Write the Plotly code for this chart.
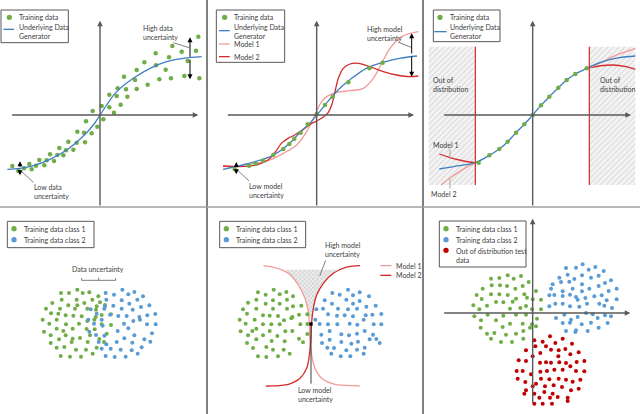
import plotly.graph_objects as go

# ---------------- data (panel-local units) ----------------
# Panel 1: data uncertainty (regression)
p1_gen_x = [22, 60, 100, 150, 200, 250, 280, 300, 320, 350, 400, 450, 500, 550, 605]
p1_gen_y = [508, 505, 497, 478, 450, 408, 375, 345, 315, 275, 235, 205, 185, 175, 170]
p1_train = [(37, 498), (55, 513), (72, 505), (88, 492), (95, 508), (108, 497), (118, 480), (133, 496),
            (140, 481), (150, 463), (162, 483), (172, 465), (178, 444), (190, 466), (198, 451), (205, 425),
            (220, 449), (230, 428), (232, 395), (252, 398), (255, 427), (258, 364), (275, 400), (278, 333),
            (292, 380), (305, 318), (310, 358), (328, 284), (328, 322), (342, 338), (350, 288), (353, 265),
            (362, 314), (372, 230), (378, 268), (382, 290), (405, 240), (410, 210), (410, 267), (433, 187),
            (443, 254), (467, 160), (468, 196), (478, 238), (497, 209), (507, 172), (513, 235), (517, 138),
            (545, 155), (553, 228), (563, 183), (588, 152), (595, 110), (598, 235)]

# Panel 2: model uncertainty (regression)
p2_gen_x = [30, 100, 180, 230, 260, 290, 312, 340, 375, 410, 460, 510, 560, 612]
p2_gen_y = [508, 492, 466, 430, 398, 370, 345, 310, 270, 240, 205, 187, 175, 168]
p2_train_x = [65, 108, 128, 150, 181, 211, 229, 244, 263, 284, 311, 336, 359, 406, 469, 509]
p2_train_y = [508, 497, 491, 482, 465, 447, 432, 416, 398, 373, 343, 315, 290, 247, 205, 188]
p2_m1_x = [30, 80, 130, 171, 211, 251, 281, 296, 311, 326, 346, 371, 411, 451, 481, 506, 531, 566, 616]
p2_m1_y = [500, 497, 490, 480, 460, 435, 395, 365, 333, 305, 287, 277, 272, 265, 235, 190, 145, 110, 95]
p2_m2_x = [30, 80, 130, 165, 190, 205, 225, 245, 265, 285, 300, 311, 330, 346, 356, 366, 376, 391, 411,
           436, 471, 511, 551, 591, 616]
p2_m2_y = [498, 500, 495, 480, 452, 430, 415, 405, 392, 378, 368, 363, 352, 337, 315, 275, 235, 205, 192,
           190, 200, 215, 225, 230, 228]

# Panel 3: out of distribution (regression)
p3_gen_x = [40, 100, 148, 190, 220, 245, 270, 295, 320, 345, 370, 397, 422, 448, 482, 530, 580, 628]
p3_gen_y = [507, 497, 488, 466, 447, 425, 398, 373, 345, 316, 290, 263, 240, 222, 205, 185, 173, 168]
p3_train_x = [158, 190, 220, 245, 270, 295, 320, 345, 370, 397, 422, 448, 482]
p3_train_y = [488, 466, 447, 425, 398, 373, 345, 316, 290, 263, 240, 222, 205]
p3_m1_left_x = [40, 70, 100, 130, 148]
p3_m1_left_y = [462, 472, 480, 486, 488]
p3_m2_left_x = [45, 75, 105, 130, 148]
p3_m2_left_y = [555, 532, 512, 497, 488]
p3_m1_right_x = [490, 520, 560, 600, 628]
p3_m1_right_y = [203, 198, 195, 200, 208]
p3_m2_right_x = [490, 520, 560, 600, 628]
p3_m2_right_y = [203, 190, 170, 155, 145]
p3_ood_left = [8, 148]
p3_ood_right = [490, 628]
p3_ood_y = [140, 555]

# Panel 4: data uncertainty (classification)
p4_class1 = [(232, 248), (183, 258), (207, 258), (248, 258), (268, 256), (295, 268), (185, 278), (230, 278),
             (277, 278), (157, 288), (253, 288), (300, 286), (205, 295), (232, 295), (290, 298), (315, 294),
             (138, 305), (180, 305), (225, 305), (262, 305), (288, 308), (153, 319), (175, 320), (197, 325),
             (220, 326), (245, 328), (287, 330), (305, 324), (333, 322), (128, 338), (170, 338), (262, 342),
             (283, 338), (148, 350), (198, 352), (237, 350), (305, 352), (333, 354), (170, 365), (218, 365),
             (260, 366), (284, 367), (132, 374), (190, 372), (320, 380), (152, 385), (197, 385), (240, 393),
             (270, 385), (177, 397), (218, 395), (298, 396), (263, 405), (312, 405), (152, 408), (215, 405),
             (170, 422), (193, 420), (290, 422), (228, 428), (258, 428), (278, 440), (182, 447), (210, 449),
             (243, 449)]
p4_class2 = [(367, 248), (317, 258), (403, 255), (342, 263), (385, 262), (429, 268), (319, 278), (365, 280),
             (412, 278), (388, 290), (315, 298), (340, 296), (423, 300), (448, 295), (272, 307), (313, 305),
             (365, 305), (398, 308), (290, 320), (330, 323), (355, 327), (380, 327), (418, 330), (442, 325),
             (466, 321), (265, 338), (305, 338), (400, 342), (420, 338), (282, 350), (372, 350), (441, 352),
             (467, 352), (308, 356), (268, 374), (353, 372), (385, 364), (456, 379), (288, 384), (313, 386),
             (403, 385), (373, 394), (433, 397), (296, 405), (350, 405), (397, 407), (451, 404), (319, 412),
             (305, 425), (332, 425), (362, 428), (395, 430), (425, 421), (413, 440), (317, 447), (344, 450),
             (377, 449)]

# Panel 5: model uncertainty (classification)
p5_class1 = [(182, 248), (135, 256), (220, 255), (158, 263), (200, 262), (240, 268), (130, 278), (180, 280),
             (222, 278), (105, 287), (158, 290), (200, 290), (240, 298), (265, 296), (90, 307), (130, 305),
             (180, 305), (222, 305), (102, 320), (150, 325), (170, 326), (195, 327), (238, 330), (258, 323),
             (283, 322), (80, 338), (125, 338), (213, 340), (235, 334), (98, 350), (150, 352), (175, 352),
             (200, 352), (262, 352), (283, 351), (130, 365), (83, 373), (118, 372), (170, 372), (217, 373),
             (238, 372), (283, 381), (105, 385), (150, 385), (193, 387), (130, 397), (258, 395), (176, 402),
             (215, 403), (102, 408), (270, 406), (120, 423), (160, 420), (180, 428), (212, 428), (230, 440),
             (135, 448), (160, 450), (195, 448)]
p5_class2 = [(405, 248), (358, 258), (440, 256), (380, 263), (420, 265), (468, 268), (335, 280), (400, 278),
             (440, 282), (357, 290), (420, 290), (460, 299), (488, 296), (310, 307), (330, 305), (375, 305),
             (405, 307), (432, 305), (345, 322), (372, 326), (395, 325), (420, 328), (458, 325), (478, 323),
             (505, 321), (307, 338), (452, 338), (320, 351), (345, 352), (373, 352), (410, 350), (433, 353),
             (482, 352), (505, 352), (350, 372), (455, 372), (325, 383), (385, 382), (408, 385), (432, 380),
             (480, 383), (350, 398), (470, 397), (490, 396), (385, 405), (435, 404), (327, 408), (415, 410),
             (500, 408), (343, 422), (363, 423), (455, 422), (400, 430), (432, 428), (355, 440), (452, 440),
             (383, 448), (412, 448)]
p5_m1_x = [151, 186, 226, 256, 276, 286, 289, 291, 296, 306, 326, 366, 426, 440]
p5_m1_y = [176, 182, 199, 234, 274, 314, 354, 404, 444, 484, 514, 532, 536, 537]
p5_m2_x = [441, 396, 361, 331, 311, 301, 296, 293, 289, 281, 261, 226, 166, 158]
p5_m2_y = [176, 182, 199, 229, 264, 304, 344, 404, 444, 484, 514, 532, 537, 537]
p5_gap_x = [218, 232, 256, 274, 284, 291, 297, 303, 313, 333, 358, 372]
p5_gap_y = [188, 205, 234, 270, 305, 335, 335, 300, 262, 228, 200, 188]

# Panel 6: out of distribution (classification)
p6_class1 = [(245, 205), (285, 207), (195, 215), (220, 213), (263, 215), (308, 225), (197, 235), (222, 235),
             (243, 237), (290, 237), (170, 245), (268, 245), (330, 252), (152, 264), (195, 262), (220, 262),
             (245, 264), (295, 262), (303, 272), (167, 276), (270, 275), (320, 277), (345, 278), (210, 285),
             (232, 286), (260, 284), (142, 295), (183, 296), (300, 297), (160, 307), (252, 305), (283, 303),
             (318, 307), (345, 307), (145, 328), (185, 323), (232, 326), (270, 323), (300, 323), (333, 335),
             (165, 340), (210, 340), (318, 352), (252, 350), (290, 350), (164, 362), (230, 360), (312, 362),
             (330, 358), (292, 372), (183, 380), (205, 378), (240, 383), (270, 380), (195, 395), (292, 395),
             (225, 405), (258, 405)]
p6_class2 = [(470, 172), (420, 183), (450, 182), (508, 180), (488, 188), (533, 192), (400, 212), (425, 203),
             (468, 205), (495, 212), (518, 206), (445, 216), (555, 220), (380, 232), (405, 225), (430, 224),
             (468, 232), (518, 237), (537, 228), (375, 245), (440, 245), (490, 245), (572, 245), (410, 253),
             (468, 253), (548, 252), (370, 265), (385, 264), (410, 267), (432, 263), (450, 270), (478, 273),
             (505, 268), (527, 265), (572, 277), (455, 278), (542, 280), (370, 298), (388, 290), (410, 290),
             (483, 290), (520, 290), (432, 298), (460, 299), (535, 296), (558, 303), (390, 333), (415, 323),
             (480, 318), (500, 322), (537, 325), (555, 328), (455, 330), (515, 333), (435, 338), (410, 348),
             (432, 347), (467, 352), (495, 347), (545, 348), (450, 370), (518, 362), (420, 372), (448, 375),
             (485, 372)]
p6_test = [(372, 388), (325, 400), (350, 404), (410, 395), (388, 408), (438, 410), (328, 418), (360, 418),
           (300, 430), (375, 428), (398, 430), (418, 426), (343, 438), (458, 436), (433, 442), (320, 448),
           (397, 448), (278, 460), (300, 462), (360, 466), (342, 467), (375, 467), (400, 466), (420, 468),
           (452, 465), (475, 462), (433, 478), (385, 488), (410, 488), (272, 492), (290, 492), (343, 494),
           (363, 492), (450, 492), (475, 493), (315, 502), (275, 515), (298, 525), (345, 515), (370, 517),
           (398, 515), (420, 518), (440, 524), (463, 518), (330, 530), (300, 550), (320, 538), (357, 538),
           (383, 535), (408, 540), (458, 545), (355, 555), (435, 550), (295, 560), (325, 560), (380, 560),
           (395, 570), (340, 572), (372, 572), (425, 572), (425, 582), (325, 590), (350, 590), (378, 590)]

# ---------------- styles ----------------
W, H = 640, 414
GREEN = "#70AD47"
BLUE_DOT = "#5B9BD5"
BLUE_LINE = "#3F7FBF"
PINK = "#F29A9A"
RED = "#D42A2A"
DARK_RED = "#C00000"
AXIS = "#595959"
TXT = "#404040"
FONT = "Lato"
FS = 7

# panel geometry in pixels (x0, x1, y0, y1) and the origin of its value units
panels = [
    (0, 207, 0, 207, 0, 0),
    (207, 423, 0, 207, 213, 0),
    (423, 640, 0, 207, 426, 0),
    (0, 207, 207, 414, 0, 207),
    (207, 423, 207, 414, 213, 207),
    (423, 640, 207, 414, 426, 207),
]

layout = dict(width=W, height=H, margin=dict(l=0, r=0, t=0, b=0, pad=0), paper_bgcolor="white",
              plot_bgcolor="rgba(0,0,0,0)", showlegend=False, font=dict(family=FONT, size=FS, color=TXT))
for i, (x0, x1, y0, y1, cx, cy) in enumerate(panels, start=1):
    s = "" if i == 1 else str(i)
    layout["xaxis" + s] = dict(domain=[x0 / W, x1 / W], range=[(x0 - cx) * 3, (x1 - cx) * 3],
                               visible=False, anchor="y" + s, fixedrange=True)
    layout["yaxis" + s] = dict(domain=[1 - y1 / H, 1 - y0 / H], range=[(y1 - cy) * 3, (y0 - cy) * 3],
                               visible=False, anchor="x" + s, fixedrange=True)

fig = go.Figure()
shapes, annos = [], []


def refs(i):
    return ("x" if i == 1 else f"x{i}"), ("y" if i == 1 else f"y{i}")


def dots(i, pts=None, xs=None, ys=None, color=GREEN, size=4):
    if pts is not None:
        xs = [p[0] for p in pts]
        ys = [p[1] for p in pts]
    xr, yr = refs(i)
    fig.add_trace(go.Scatter(x=xs, y=ys, xaxis=xr, yaxis=yr, mode="markers", hoverinfo="skip",
                             marker=dict(size=size, color=color, line=dict(width=0))))


def curve(i, xs, ys, color, width=1.3):
    xr, yr = refs(i)
    fig.add_trace(go.Scatter(x=xs, y=ys, xaxis=xr, yaxis=yr, mode="lines", hoverinfo="skip",
                             line=dict(color=color, width=width, shape="spline", smoothing=1.0)))


def hatch(i, xs, ys, shape="/", fg="#b8b8b8", bg="#f4f4f4", size=4, solidity=0.25):
    xr, yr = refs(i)
    fig.add_trace(go.Scatter(x=xs, y=ys, xaxis=xr, yaxis=yr, mode="lines", fill="toself",
                             line=dict(width=0, color="rgba(0,0,0,0)"), hoverinfo="skip",
                             fillcolor=bg,
                             fillpattern=dict(shape=shape, fgcolor=fg, bgcolor=bg,
                                              size=size, solidity=solidity)))


def line(i, x0, y0, x1, y1, color=AXIS, width=1):
    xr, yr = refs(i)
    shapes.append(dict(type="line", xref=xr, yref=yr, x0=x0, y0=y0, x1=x1, y1=y1,
                       line=dict(color=color, width=width), layer="above"))


def arrow(i, xs, ys, xe, ye, width=1.6, color=AXIS, size=0.8):
    xr, yr = refs(i)
    annos.append(dict(x=xe, y=ye, ax=xs, ay=ys, xref=xr, yref=yr, axref=xr, ayref=yr, text="",
                      showarrow=True, arrowhead=2, arrowsize=size, arrowwidth=width, arrowcolor=color))


def text(i, x, y, s, anchor="left", align="left", size=FS):
    xr, yr = refs(i)
    annos.append(dict(x=x, y=y, xref=xr, yref=yr, text=s, showarrow=False, xanchor=anchor,
                      yanchor="middle", align=align, font=dict(family=FONT, size=size, color=TXT)))


def box(i, x0, y0, x1, y1):
    xr, yr = refs(i)
    shapes.append(dict(type="rect", xref=xr, yref=yr, x0=x0, y0=y0, x1=x1, y1=y1,
                       line=dict(color="#595959", width=1), fillcolor="white", layer="above"))


def key_dot(i, cx, cy, color, r=8):
    xr, yr = refs(i)
    shapes.append(dict(type="circle", xref=xr, yref=yr, x0=cx - r, y0=cy - r, x1=cx + r, y1=cy + r,
                       line=dict(width=0), fillcolor=color, layer="above"))


# ---------------- panel 1 ----------------
arrow(1, 300, 621, 300, 62, width=1.4)
arrow(1, 32, 345, 595, 345, width=1.4)
dots(1, p1_train, color=GREEN, size=4.5)
curve(1, p1_gen_x, p1_gen_y, BLUE_LINE)
arrow(1, 570, 175, 570, 112, width=1, color="black", size=1)
arrow(1, 570, 175, 570, 238, width=1, color="black", size=1)
line(1, 520, 128, 567, 143, color="#7f7f7f")
text(1, 423, 97, "High data<br>uncertainty")
arrow(1, 60, 505, 60, 484, width=1, color="black", size=1)
arrow(1, 60, 505, 60, 526, width=1, color="black", size=1)
line(1, 63, 513, 100, 547, color="#7f7f7f")
text(1, 95, 574, "Low data<br>uncertainty")
box(1, 3, 30, 205, 128)
key_dot(1, 28, 52, GREEN)
text(1, 50, 52, "Training data")
line(1, 10, 88, 42, 88, color=BLUE_LINE, width=1.3)
text(1, 50, 95, "Underlying Data<br>Generator")

# ---------------- panel 2 ----------------
arrow(2, 311, 621, 311, 62, width=1.4)
arrow(2, 40, 345, 603, 345, width=1.4)
curve(2, p2_m1_x, p2_m1_y, PINK)
curve(2, p2_m2_x, p2_m2_y, RED)
curve(2, p2_gen_x, p2_gen_y, BLUE_LINE)
dots(2, xs=p2_train_x, ys=p2_train_y, color=GREEN, size=4.5)
arrow(2, 596, 165, 596, 100, width=1, color="black", size=1)
arrow(2, 596, 165, 596, 230, width=1, color="black", size=1)
line(2, 555, 126, 594, 142, color="#7f7f7f")
text(2, 455, 99, "High model<br>uncertainty")
arrow(2, 70, 505, 70, 486, width=1, color="black", size=1)
arrow(2, 70, 505, 70, 523, width=1, color="black", size=1)
line(2, 75, 512, 108, 543, color="#7f7f7f")
text(2, 103, 572, "Low model<br>uncertainty")
box(2, 10, 30, 215, 187)
key_dot(2, 35, 52, GREEN)
text(2, 57, 52, "Training data")
line(2, 18, 92, 50, 92, color=BLUE_LINE, width=1.3)
text(2, 57, 95, "Underlying Data<br>Generator")
line(2, 18, 132, 50, 132, color=PINK, width=1.3)
text(2, 57, 132, "Model 1")
line(2, 18, 170, 50, 170, color=RED, width=1.3)
text(2, 57, 170, "Model 2")

# ---------------- panel 3 ----------------
hatch(3, [p3_ood_left[0], p3_ood_left[1], p3_ood_left[1], p3_ood_left[0]],
      [p3_ood_y[0], p3_ood_y[0], p3_ood_y[1], p3_ood_y[1]])
hatch(3, [p3_ood_right[0], p3_ood_right[1], p3_ood_right[1], p3_ood_right[0]],
      [p3_ood_y[0], p3_ood_y[0], p3_ood_y[1], p3_ood_y[1]])
line(3, p3_ood_left[1], p3_ood_y[0], p3_ood_left[1], p3_ood_y[1], color=RED, width=1.2)
line(3, p3_ood_right[0], p3_ood_y[0], p3_ood_right[0], p3_ood_y[1], color=RED, width=1.2)
arrow(3, 320, 621, 320, 62, width=1.4)
arrow(3, 50, 345, 615, 345, width=1.4)
curve(3, p3_m1_left_x, p3_m1_left_y, RED)
curve(3, p3_m2_left_x, p3_m2_left_y, PINK)
curve(3, p3_m1_right_x, p3_m1_right_y, RED)
curve(3, p3_m2_right_x, p3_m2_right_y, PINK)
curve(3, p3_gen_x, p3_gen_y, BLUE_LINE)
dots(3, xs=p3_train_x, ys=p3_train_y, color=GREEN, size=4.5)
text(3, 15, 254, "Out of<br>distribution")
text(3, 515, 254, "Out of<br>distribution")
text(3, 15, 435, "Model 1")
line(3, 72, 448, 72, 476, color="#a6a6a6")
text(3, 8, 583, "Model 2")
line(3, 72, 566, 72, 538, color="#a6a6a6")
box(3, 22, 30, 222, 125)
key_dot(3, 42, 52, GREEN)
text(3, 65, 52, "Training data")
line(3, 25, 95, 62, 95, color=BLUE_LINE, width=1.3)
text(3, 65, 95, "Underlying Data<br>Generator")

# ---------------- panel 4 ----------------
dots(4, p4_class1, color=GREEN)
dots(4, p4_class2, color=BLUE_DOT)
text(4, 295, 185, "Data uncertainty", anchor="center", align="center")
line(4, 245, 220, 347, 220, color="#7f7f7f")
line(4, 245, 220, 245, 213, color="#7f7f7f")
line(4, 347, 220, 347, 213, color="#7f7f7f")
line(4, 296, 220, 296, 212, color="#7f7f7f")
box(4, 22, 43, 282, 122)
key_dot(4, 42, 65, GREEN)
text(4, 67, 65, "Training data class 1")
key_dot(4, 42, 98, BLUE_DOT)
text(4, 67, 98, "Training data class 2")

# ---------------- panel 5 ----------------
hatch(5, p5_gap_x, p5_gap_y, shape="x", fg="#8c8c8c", bg="#ededed", size=3, solidity=0.3)
curve(5, p5_m1_x, p5_m1_y, PINK)
curve(5, p5_m2_x, p5_m2_y, RED)
dots(5, p5_class1, color=GREEN)
dots(5, p5_class2, color=BLUE_DOT)
line(5, 294, 351, 294, 530, color="#404040", width=1)
xr5, yr5 = refs(5)
shapes.append(dict(type="rect", xref=xr5, yref=yr5, x0=289, y0=346, x1=299, y1=356,
                   line=dict(width=0), fillcolor="black", layer="above"))
line(5, 338, 160, 320, 207, color="#7f7f7f")
text(5, 330, 127, "High model<br>uncertainty")
text(5, 250, 562, "Low model<br>uncertainty")
line(5, 502, 176, 535, 176, color=PINK, width=1.3)
text(5, 543, 176, "Model 1")
line(5, 502, 205, 535, 205, color=RED, width=1.3)
text(5, 543, 205, "Model 2")
box(5, 20, 43, 278, 122)
key_dot(5, 40, 65, GREEN)
text(5, 63, 65, "Training data class 1")
key_dot(5, 40, 98, BLUE_DOT)
text(5, 63, 98, "Training data class 2")

# ---------------- panel 6 ----------------
arrow(6, 320, 592, 320, 35, width=1.4)
arrow(6, 50, 318, 613, 318, width=1.4)
dots(6, p6_class1, color=GREEN)
dots(6, p6_class2, color=BLUE_DOT)
dots(6, p6_test, color=DARK_RED)
box(6, 40, 42, 300, 180)
key_dot(6, 60, 65, GREEN)
text(6, 83, 65, "Training data class 1")
key_dot(6, 60, 98, BLUE_DOT)
text(6, 83, 98, "Training data class 2")
key_dot(6, 60, 130, DARK_RED)
text(6, 83, 144, "Out of distribution test<br>data")

# ---------------- panel dividers ----------------
shapes.append(dict(type="line", xref="paper", yref="paper", x0=207 / W, x1=207 / W, y0=0, y1=1,
                   line=dict(color="black", width=1)))
shapes.append(dict(type="line", xref="paper", yref="paper", x0=423 / W, x1=423 / W, y0=0, y1=1,
                   line=dict(color="black", width=1)))
shapes.append(dict(type="line", xref="paper", yref="paper", x0=0, x1=1, y0=0.5, y1=0.5,
                   line=dict(color="#a0a0a0", width=1.5)))

layout["shapes"] = shapes
layout["annotations"] = annos
fig.update_layout(**layout)
fig.write_html("out.html", config={"displayModeBar": False, "staticPlot": True},
               post_script="document.body.style.margin='0';document.body.style.overflow='hidden';")
